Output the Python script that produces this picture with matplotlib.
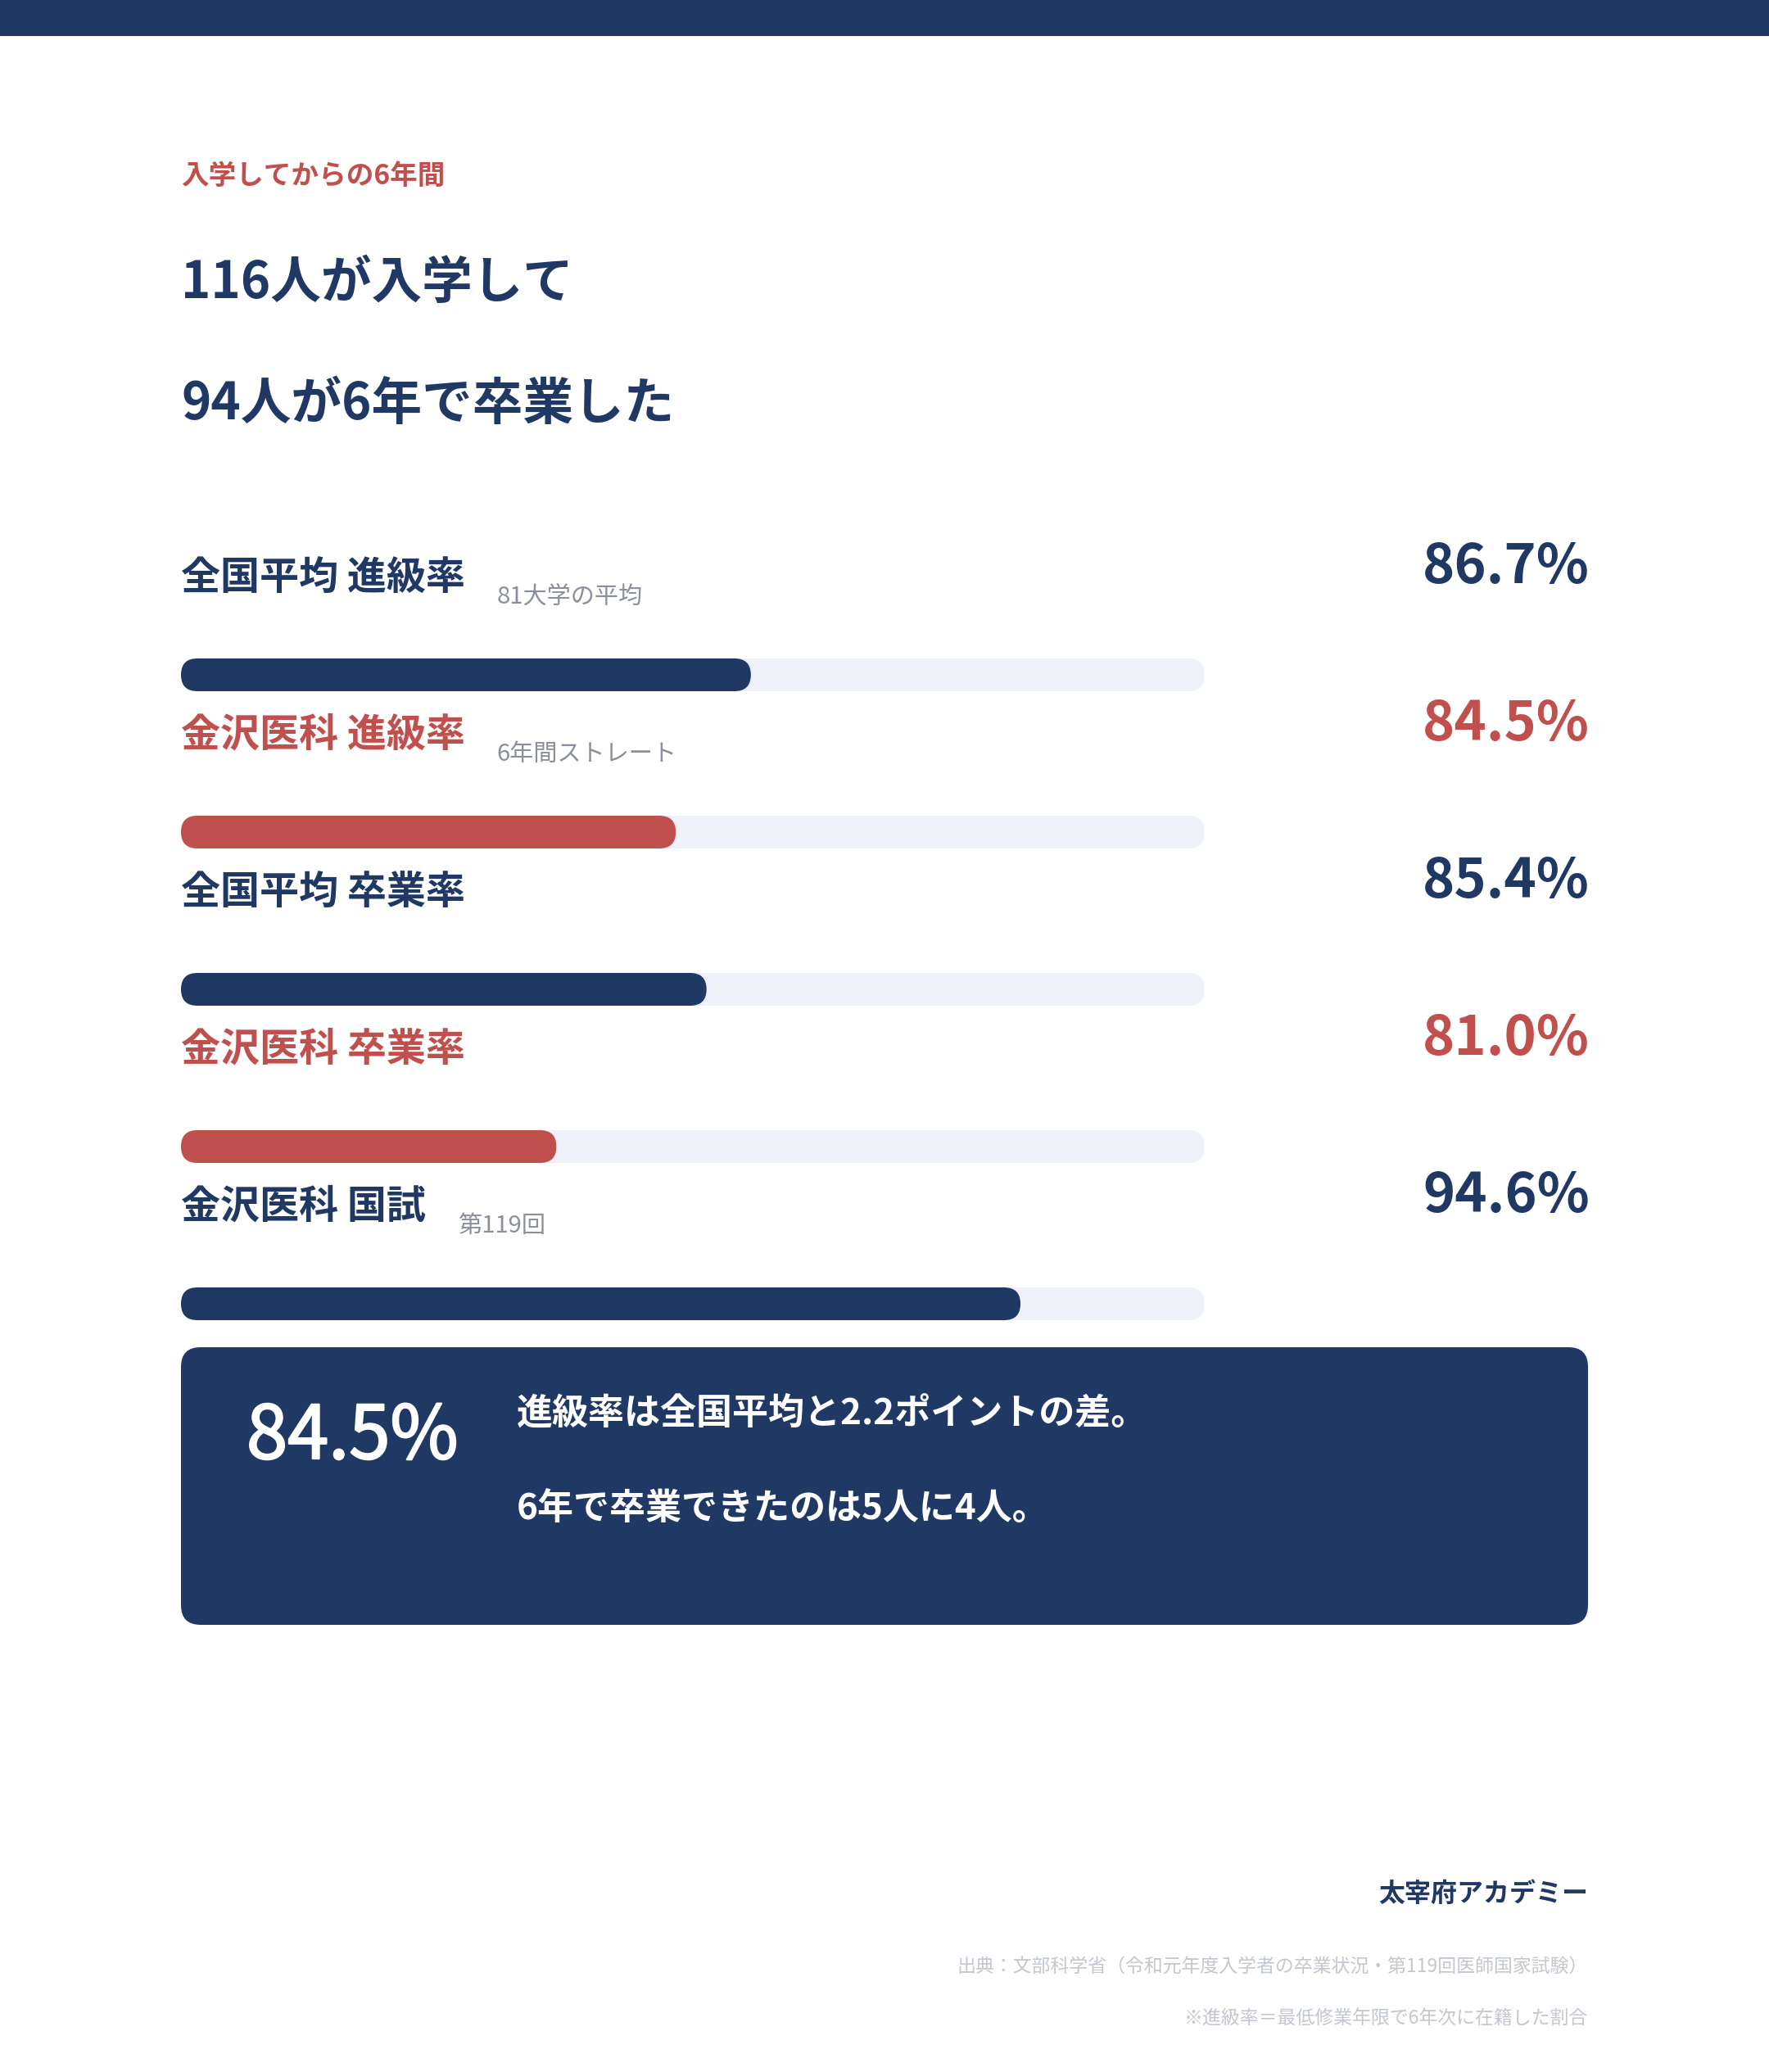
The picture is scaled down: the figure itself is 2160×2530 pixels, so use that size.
import matplotlib
matplotlib.use("Agg")
import matplotlib.pyplot as plt
import matplotlib.patheffects as pe
from matplotlib.patches import FancyBboxPatch, Rectangle

plt.rcParams['font.family'] = ['Noto Sans CJK JP', 'DejaVu Sans']

# -----------------------------
# Data
# -----------------------------
eyebrow = "入学してからの6年間"
headline = ["116人が入学して", "94人が6年で卒業した"]

labels = ["全国平均 進級率", "金沢医科 進級率", "全国平均 卒業率", "金沢医科 卒業率", "金沢医科 国試"]
sublabels = ["81大学の平均", "6年間ストレート", "", "", "第119回"]
values = [86.7, 84.5, 85.4, 81.0, 94.6]
highlight = [False, True, False, True, False]

scale_min, scale_max = 70, 100

card_value = values[1]
card_lines = ["進級率は全国平均と2.2ポイントの差。", "6年で卒業できたのは5人に4人。"]

brand = "太宰府アカデミー"
source = "出典：文部科学省（令和元年度入学者の卒業状況・第119回医師国家試験）"
note = "※進級率＝最低修業年限で6年次に在籍した割合"

# -----------------------------
# Style
# -----------------------------
NAVY = "#203864"
RED = "#C0504D"
TRACK = "#EEF1F8"
GRAY = "#8A8F9B"
LIGHT = "#C3C7CF"

W, H = 2160, 2530
fig = plt.figure(figsize=(W / 100, H / 100), dpi=100)
fig.patch.set_facecolor("white")

# main axes in pixel units
ax = fig.add_axes([0, 0, 1, 1])
ax.set_xlim(0, W)
ax.set_ylim(H, 0)
ax.axis("off")

ax.add_patch(Rectangle((0, 0), W, 44, color=NAVY, lw=0))

left = 221
ax.text(left, 215, eyebrow, fontsize=24.2, fontweight="bold", color=RED, va="center")
ax.text(left, 345, headline[0], fontsize=44.4, fontweight="bold", color=NAVY, va="center")
ax.text(left, 494, headline[1], fontsize=44.4, fontweight="bold", color=NAVY, va="center")

# -----------------------------
# Rows: label, value, bar
# -----------------------------
row_gap = 192
track_left, track_w = 221, 1250
bx = fig.add_axes([track_left / W, 0, track_w / W, 1])
bx.set_xlim(scale_min, scale_max)
bx.set_ylim(H, 0)
bx.axis("off")
xu = (scale_max - scale_min) / track_w  # x units per pixel
bar_h = 40

for i, (lab, sub, v, hl) in enumerate(zip(labels, sublabels, values, highlight)):
    col = RED if hl else NAVY
    ly = 705 + i * row_gap
    t = ax.text(left, ly, lab, fontsize=34.6, fontweight="bold", color=col, va="center")
    if sub:
        ax.annotate(sub, xy=(1, 0.5), xycoords=t, xytext=(28, -17.5),
                    textcoords="offset points", fontsize=21, color=GRAY,
                    va="center", ha="left")
    ax.text(1941, 712 + i * row_gap, f"{v:.1f}%", fontsize=48, fontweight="bold",
            color=col, va="baseline", ha="right")

    yc = 824 + i * row_gap
    style = f"round,pad=0,rounding_size={bar_h / 2 * xu}"
    bx.add_patch(FancyBboxPatch((scale_min, yc - bar_h / 2), scale_max - scale_min, bar_h,
                                boxstyle=style, mutation_aspect=1 / xu, fc=TRACK, ec="none"))
    bx.add_patch(FancyBboxPatch((scale_min, yc - bar_h / 2), v - scale_min, bar_h,
                                boxstyle=style, mutation_aspect=1 / xu, fc=col, ec="none"))

# -----------------------------
# Summary card
# -----------------------------
ax.add_patch(FancyBboxPatch((221, 1645), 1718, 339, boxstyle="round,pad=0,rounding_size=24",
                            fc=NAVY, ec="none"))
ax.text(301, 1781, f"{card_value:.1f}%", fontsize=65, color="white", va="baseline",
        path_effects=[pe.withStroke(linewidth=1.6, foreground="white")])
ax.text(631, 1726, card_lines[0], fontsize=31.7, fontweight="bold", color="white", va="center")
ax.text(631, 1842, card_lines[1], fontsize=31.7, fontweight="bold", color="white", va="center")

# -----------------------------
# Footer
# -----------------------------
ax.text(1939, 2313, brand, fontsize=23, fontweight="bold", color=NAVY, va="center", ha="right")
ax.text(1939, 2402, source, fontsize=16.5, color=LIGHT, va="center", ha="right")
ax.text(1939, 2464, note, fontsize=16.5, color=LIGHT, va="center", ha="right")

fig.savefig("out.png", dpi=100)
